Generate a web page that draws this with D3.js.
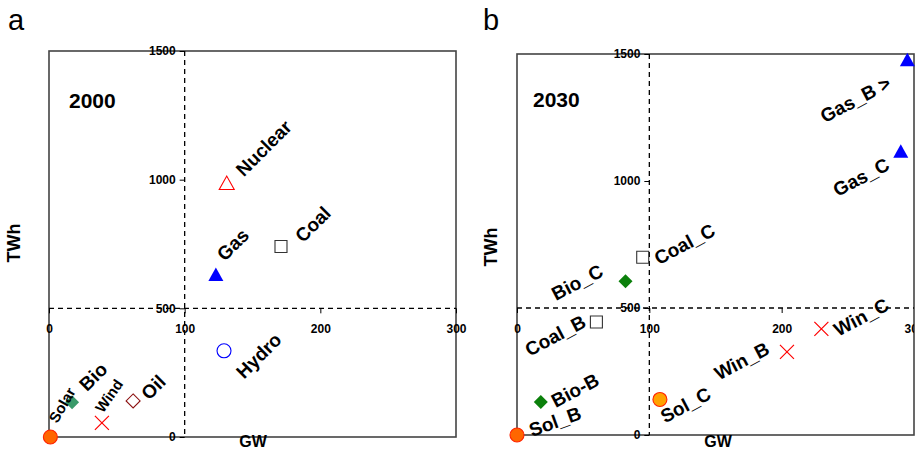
<!DOCTYPE html>
<html>
<head>
<meta charset="utf-8">
<script src="https://cdn.jsdelivr.net/npm/d3@7"></script>
<style>
	body { margin: 0; background: #fff; }
	svg text { font-family: "Liberation Sans", Arial, sans-serif; }
</style>
</head>
<body>
<div id="chart"></div>
<script>
// Capacity (GW) vs generation (TWh) per technology, 2000 and 2030

// panel a - 2000
const techA = ["Solar", "Bio", "Wind", "Oil", "Gas", "Hydro", "Nuclear", "Coal"];
const gwA = [1, 17, 39, 62, 123, 129, 131, 171];
const twhA = [0, 135, 55, 140, 630, 335, 985, 740];

// panel b - 2030
const techB = ["Sol_B", "Bio-B", "Coal_B", "Bio_C", "Coal_C", "Sol_C", "Win_B", "Win_C", "Gas_C", "Gas_B >"];
const gwB = [0, 18, 60, 82, 95, 108, 204, 230, 290, 295];
const twhB = [0, 130, 445, 605, 700, 140, 327, 418, 1115, 1475];

const xTicks = [0, 100, 200, 300];
const yTicks = [0, 500, 1000, 1500];

(function () {
	const W = 918, H = 449;

	// marker look per technology
	const RED = "#ff0000";
	const STYLE = {
		Solar:   { shape: "circle",   fill: "#ff6600", stroke: "#ff2200" },
		Sol_B:   { shape: "circle",   fill: "#ff6600", stroke: "#ff2200" },
		Sol_C:   { shape: "circle",   fill: "#ffa200", stroke: "#ff2200" },
		Bio:     { shape: "diamond",  fill: "#3a9a6a", stroke: "none" },
		"Bio-B": { shape: "diamond",  fill: "#0b800b", stroke: "none" },
		Bio_C:   { shape: "diamond",  fill: "#0b800b", stroke: "none" },
		Wind:    { shape: "cross",    fill: "none", stroke: RED },
		Win_B:   { shape: "cross",    fill: "none", stroke: RED },
		Win_C:   { shape: "cross",    fill: "none", stroke: RED },
		Oil:     { shape: "diamond",  fill: "#fff", stroke: "#8b1010" },
		Gas:     { shape: "triangle", fill: "#0000ff", stroke: "none" },
		Gas_C:   { shape: "triangle", fill: "#0000ff", stroke: "none" },
		"Gas_B >": { shape: "triangle", fill: "#0000ff", stroke: "none" },
		Hydro:   { shape: "circle",   fill: "#fff", stroke: "#0000ff" },
		Nuclear: { shape: "triangle", fill: "#fff", stroke: RED },
		Coal:    { shape: "square",   fill: "#fff", stroke: "#333" },
		Coal_B:  { shape: "square",   fill: "#fff", stroke: "#333" },
		Coal_C:  { shape: "square",   fill: "#fff", stroke: "#333" },
	};

	// label placement: offset from marker, anchor, angle, size
	const LABEL = {
		Solar:   { dx: 7, dy: -13, anchor: "start", rot: -60, size: 15 },
		Bio:     { dx: 15, dy: -10, anchor: "start", rot: -45, size: 19 },
		Wind:    { dx: 1, dy: -9, anchor: "start", rot: -55, size: 15 },
		Oil:     { dx: 16, dy: 0, anchor: "start", rot: -45, size: 19 },
		Gas:     { dx: 9, dy: -13, anchor: "start", rot: -45, size: 19 },
		Hydro:   { dx: 20, dy: 29, anchor: "start", rot: -45, size: 19 },
		Nuclear: { dx: 17, dy: -6, anchor: "start", rot: -45, size: 19 },
		Coal:    { dx: 22, dy: -3, anchor: "start", rot: -45, size: 19 },
		Sol_B:   { dx: 15, dy: 2, anchor: "start", rot: -20, size: 19 },
		"Bio-B": { dx: 15, dy: 6, anchor: "start", rot: -28, size: 19 },
		Coal_B:  { dx: -9, dy: 4, anchor: "end", rot: -28, size: 19 },
		Bio_C:   { dx: -21, dy: -6, anchor: "end", rot: -28, size: 19 },
		Coal_C:  { dx: 16, dy: 8, anchor: "start", rot: -28, size: 19 },
		Sol_C:   { dx: 5, dy: 24, anchor: "start", rot: -28, size: 19 },
		Win_B:   { dx: -16, dy: 1, anchor: "end", rot: -28, size: 19 },
		Win_C:   { dx: 17, dy: 8, anchor: "start", rot: -28, size: 19 },
		Gas_C:   { dx: -10, dy: 17, anchor: "end", rot: -28, size: 19 },
		"Gas_B >": { dx: -15, dy: 27, anchor: "end", rot: -28, size: 19 },
	};

	function shapePath(shape) {
		switch (shape) {
			case "circle": return d3.arc()({ innerRadius: 0, outerRadius: 7, startAngle: 0, endAngle: 2 * Math.PI });
			case "triangle": return "M-7.5,6L7.5,6L0,-7.5Z";
			case "square": return "M-6,-6H6V6H-6Z";
			case "diamond": return "M0,-7L7,0L0,7L-7,0Z";
			case "cross": return "M-7,-7L7,7M-7,7L7,-7";
		}
	}

	const svg = d3.select("#chart")
		.append("svg")
		.attr("width", W)
		.attr("height", H)
		.style("background", "#fff");

	function panel(opt) {
		const { box, names, gw, twh, letter, year, yearPos, twhPos, gwPos, clipId } = opt;

		const x = d3.scaleLinear().domain([0, 300]).range([box.left, box.right]);
		const y = d3.scaleLinear().domain([0, 1500]).range([box.bottom, box.top]);

		const g = svg.append("g");

		// frame
		g.append("rect")
			.attr("x", box.left)
			.attr("y", box.top)
			.attr("width", box.right - box.left)
			.attr("height", box.bottom - box.top)
			.attr("fill", "none")
			.attr("stroke", "#444")
			.attr("stroke-width", 1.6);

		// dashed cross lines at GW=100 and TWh=500
		g.append("line")
			.attr("x1", x(100)).attr("x2", x(100))
			.attr("y1", box.top).attr("y2", box.bottom)
			.attr("stroke", "#000")
			.attr("stroke-width", 1.3)
			.attr("stroke-dasharray", "5,4");
		g.append("line")
			.attr("x1", box.left).attr("x2", box.right)
			.attr("y1", y(500)).attr("y2", y(500))
			.attr("stroke", "#000")
			.attr("stroke-width", 1.3)
			.attr("stroke-dasharray", "5,4");

		// y axis sits on the GW=100 line
		const yAxisG = g.append("g")
			.attr("transform", `translate(${x(100)},0)`)
			.call(d3.axisLeft(y).tickValues(yTicks).tickFormat(d3.format("d")).tickSize(5).tickPadding(4));
		yAxisG.select(".domain").remove();

		// x axis sits on the TWh=500 line
		if (clipId) {
			svg.append("clipPath").attr("id", clipId)
				.append("rect")
				.attr("x", box.left - 20).attr("y", 0)
				.attr("width", box.right - box.left + 20).attr("height", H);
		}
		const xAxisG = g.append("g")
			.attr("transform", `translate(0,${y(500)})`)
			.call(d3.axisBottom(x).tickValues(xTicks).tickFormat(d3.format("d")).tickSize(5).tickPadding(11));
		xAxisG.select(".domain").remove();
		if (clipId) xAxisG.attr("clip-path", `url(#${clipId})`);

		[yAxisG, xAxisG].forEach(a => {
			a.selectAll("text")
				.style("font-family", "'Liberation Sans', Arial, sans-serif")
				.style("font-size", "12px")
				.style("font-weight", 700)
				.attr("fill", "#000");
			a.selectAll("line").attr("stroke", "#000");
		});

		// axis titles
		g.append("text")
			.attr("transform", `translate(${twhPos[0]},${twhPos[1]}) rotate(-90)`)
			.attr("text-anchor", "middle")
			.style("font-size", "18px")
			.style("font-weight", 700)
			.text("TWh");
		g.append("text")
			.attr("x", gwPos[0])
			.attr("y", gwPos[1])
			.attr("text-anchor", "middle")
			.style("font-size", "16px")
			.style("font-weight", 700)
			.text("GW");

		// panel letter + year
		g.append("text")
			.attr("x", letter.x)
			.attr("y", 30)
			.style("font-size", "29px")
			.text(letter.t);
		g.append("text")
			.attr("x", yearPos[0])
			.attr("y", yearPos[1])
			.style("font-size", "21px")
			.style("font-weight", 700)
			.text(year);

		const pts = names.map((n, i) => ({ name: n, gw: gw[i], twh: twh[i] }));

		// markers
		g.selectAll("path.mark")
			.data(pts)
			.enter()
			.append("path")
			.attr("class", "mark")
			.attr("transform", d => `translate(${x(d.gw)},${y(d.twh)})`)
			.attr("d", d => shapePath(STYLE[d.name].shape))
			.attr("fill", d => STYLE[d.name].fill)
			.attr("stroke", d => STYLE[d.name].stroke)
			.attr("stroke-width", d => (STYLE[d.name].shape === "cross" ? 1.2 : 1.1));

		// labels
		g.selectAll("text.lbl")
			.data(pts)
			.enter()
			.append("text")
			.attr("class", "lbl")
			.attr("transform", d => {
				const l = LABEL[d.name];
				return `translate(${x(d.gw) + l.dx},${y(d.twh) + l.dy}) rotate(${l.rot})`;
			})
			.attr("text-anchor", d => LABEL[d.name].anchor)
			.style("font-size", d => LABEL[d.name].size + "px")
			.style("font-weight", 700)
			.text(d => d.name);
	}

	panel({
		box: { left: 49, right: 456, top: 51, bottom: 437 },
		names: techA, gw: gwA, twh: twhA,
		letter: { x: 8, t: "a" },
		year: "2000", yearPos: [69, 108],
		twhPos: [20, 243], gwPos: [253, 447],
	});

	panel({
		box: { left: 517, right: 914, top: 54, bottom: 435 },
		names: techB, gw: gwB, twh: twhB,
		letter: { x: 483, t: "b" },
		year: "2030", yearPos: [533, 107],
		twhPos: [497, 247], gwPos: [718, 447],
		clipId: "clipB",
	});
})();
</script>
</body>
</html>
